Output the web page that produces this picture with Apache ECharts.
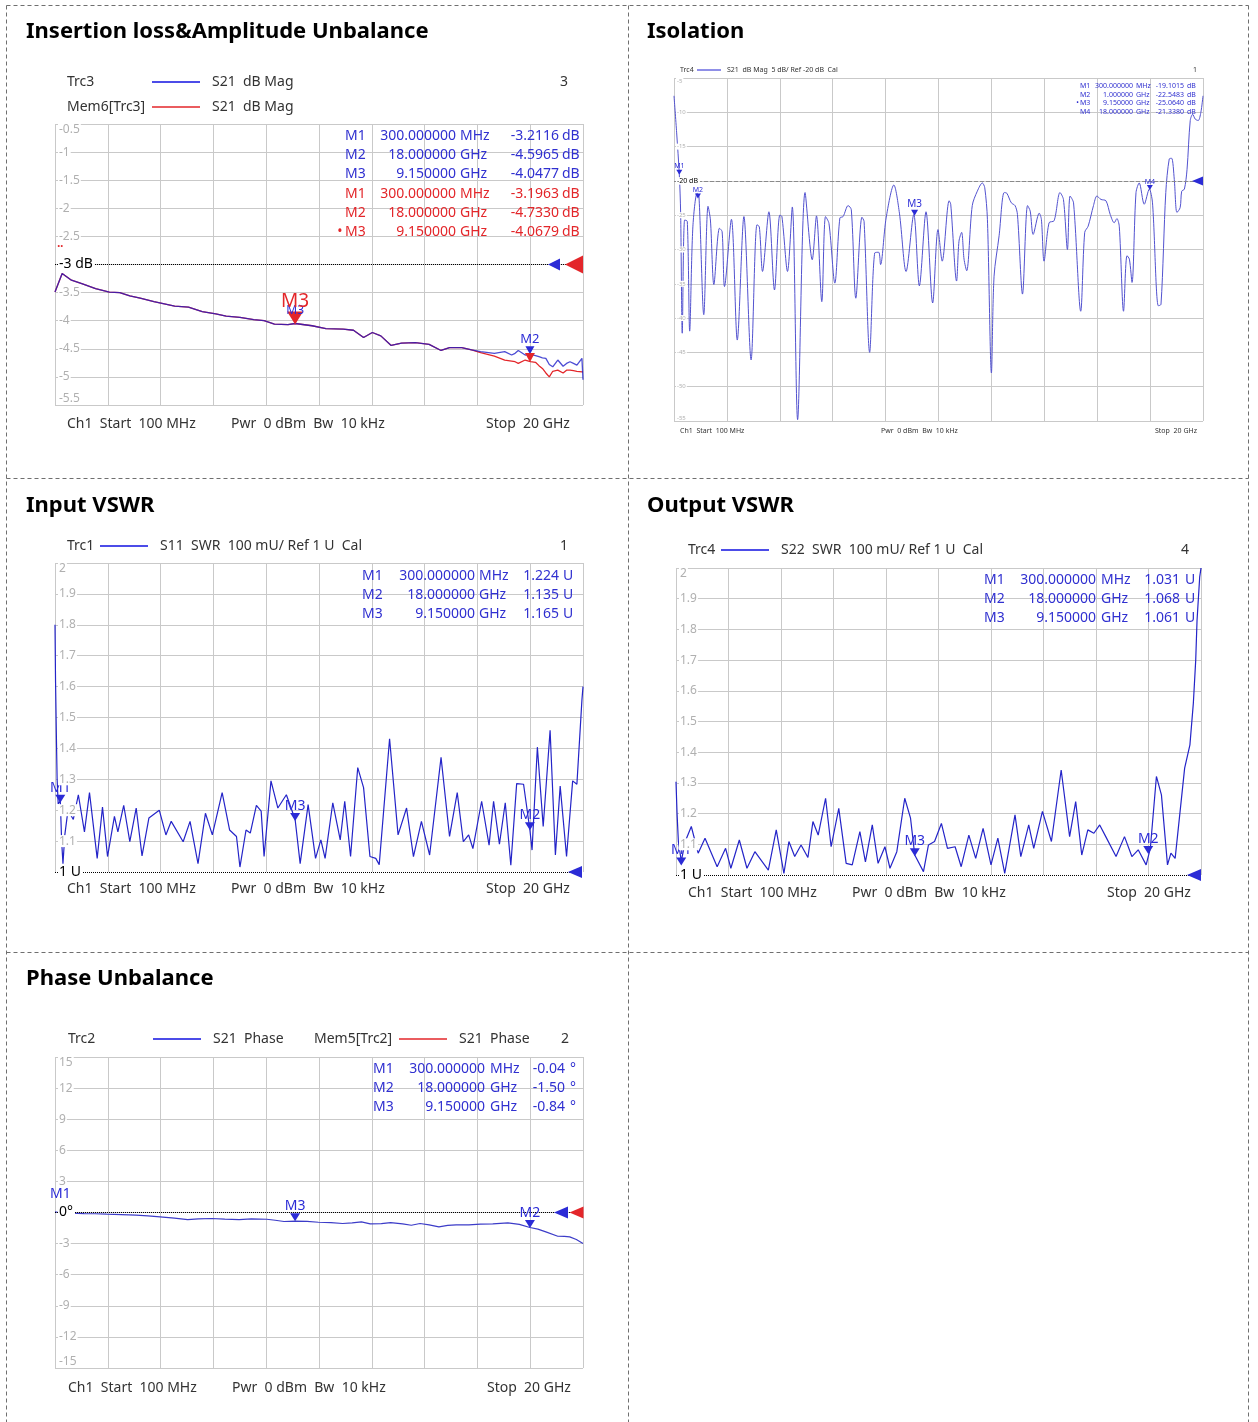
<!DOCTYPE html>
<html><head><meta charset="utf-8">
<script src="https://cdn.jsdelivr.net/npm/echarts@6/dist/echarts.min.js"></script>
<style>html,body{margin:0;padding:0;background:#fff}#c{width:1258px;height:1422px}</style>
</head><body><div id="c"></div>
<script>
// ---------------- DATA ----------------
// Insertion loss (S21 dB Mag), frequency in GHz
const ilFreq = [0.1,0.37,0.72,1.11,1.63,2.15,2.54,2.92,3.31,3.83,4.22,4.61,5.13,5.65,6.16,6.55,7.07,7.59,7.98,8.37,8.88,9.15,9.79,10.31,10.96,11.35,11.73,12.06,12.38,12.77,13.16,13.68,14.2,14.65,14.97,15.43,15.8];
const ilShared = [-3.49,-3.16,-3.28,-3.34,-3.43,-3.49,-3.50,-3.56,-3.60,-3.66,-3.70,-3.74,-3.76,-3.84,-3.88,-3.92,-3.94,-3.98,-4.00,-4.06,-4.07,-4.05,-4.09,-4.14,-4.15,-4.17,-4.30,-4.21,-4.27,-4.44,-4.40,-4.39,-4.42,-4.53,-4.48,-4.48,-4.52];
const ilTailFreq = [16.14,16.66,17.05,17.31,17.44,17.56,17.82,18.02,18.21,18.34,18.47,18.6,18.73,18.86,19.05,19.25,19.38,19.51,19.64,19.77,19.96,20.0];
const ilBlueTail = [-4.55,-4.58,-4.55,-4.61,-4.58,-4.53,-4.61,-4.60,-4.62,-4.64,-4.66,-4.67,-4.78,-4.82,-4.70,-4.81,-4.76,-4.73,-4.76,-4.79,-4.67,-5.05];
const ilRedTail  = [-4.57,-4.63,-4.70,-4.72,-4.73,-4.76,-4.70,-4.73,-4.74,-4.80,-4.85,-4.93,-5.00,-4.90,-4.88,-4.93,-4.88,-4.88,-4.89,-4.90,-4.91,-4.91];
const ilMarkBlue = [{n:'M1',f:0.3,v:-3.2116},{n:'M2',f:18,v:-4.5965},{n:'M3',f:9.15,v:-4.0477}];
const ilMarkRed  = [{n:'M1',f:0.3,v:-3.1963},{n:'M2',f:18,v:-4.7330},{n:'M3',f:9.15,v:-4.0679}];

// Isolation (S21 dB Mag)
const isoFreq = [0.1,0.2,0.3,0.35,0.41,0.5,0.6,0.69,0.81,0.97,1.04,1.22,1.38,1.47,1.6,1.81,1.91,2.0,2.26,2.48,2.73,3.0,3.22,3.31,3.43,3.67,3.88,4.08,4.16,4.37,4.55,4.75,5.03,5.3,5.46,5.66,5.8,5.93,6.15,6.34,6.46,6.65,6.77,6.94,7.17,7.25,7.46,7.65,7.8,7.87,8.08,8.37,8.58,8.83,9.12,9.33,9.58,9.83,10.03,10.19,10.45,10.51,10.73,10.82,10.92,11.01,11.11,11.32,11.51,11.7,11.79,11.89,12.04,12.14,12.33,12.52,12.62,12.79,12.93,13.02,13.21,13.4,13.5,13.61,13.84,13.92,14.02,14.21,14.4,14.62,14.75,14.9,15.0,15.13,15.4,15.55,15.68,15.88,16.01,16.16,16.35,16.51,16.66,16.76,16.85,17.01,17.14,17.23,17.33,17.48,17.6,17.79,17.98,18.1,18.32,18.42,18.6,18.73,18.82,18.92,19.02,19.14,19.2,19.3,19.4,19.52,19.61,19.71,19.82,19.92,20.0];
const isoVal = [-7.6,-13.0,-19.1,-24.7,-42.2,-25.7,-25.9,-41.9,-26.7,-21.8,-22.3,-39.5,-23.7,-25.7,-35.1,-26.9,-27.4,-35.4,-25.6,-43.2,-25.2,-46.1,-26.4,-26.7,-33.2,-24.5,-35.9,-25.0,-25.2,-33.2,-23.8,-54.8,-21.7,-31.5,-25.1,-37.6,-25.2,-26.2,-34.9,-25.4,-25.2,-23.6,-24.2,-37.1,-25.3,-25.9,-45.0,-30.5,-30.4,-32.2,-25.4,-20.6,-24.7,-33.2,-24.9,-35.3,-24.5,-37.8,-27.1,-31.7,-22.9,-23.4,-34.6,-28.8,-27.5,-31.4,-33.1,-23.6,-21.5,-20.3,-21.0,-25.6,-48.0,-33.9,-28.0,-21.7,-21.8,-23.2,-23.6,-24.9,-36.5,-23.6,-24.4,-27.8,-24.7,-25.6,-31.7,-26.1,-25.8,-21.7,-22.7,-30.0,-22.2,-23.2,-39.0,-27.5,-26.6,-23.6,-22.2,-22.7,-22.9,-24.9,-26.1,-25.5,-26.6,-39.0,-30.9,-31.4,-34.8,-21.7,-20.3,-23.4,-21.2,-23.2,-38.2,-38.0,-21.7,-16.8,-16.7,-19.8,-24.6,-23.9,-21.5,-21.2,-18.3,-11.2,-10.3,-11.0,-11.2,-10.0,-7.6];
const isoMark = [{n:'M1',f:0.3,v:-19.1015},{n:'M2',f:1.0,v:-22.5483},{n:'M3',f:9.15,v:-25.0640},{n:'M4',f:18,v:-21.3380}];

// Input VSWR (S11 SWR)
const inFreq = [0.10,0.12,0.15,0.18,0.22,0.30,0.35,0.40,0.47,0.59,0.79,0.98,1.21,1.40,1.69,1.89,2.08,2.34,2.47,2.69,2.92,3.16,3.38,3.64,4.03,4.28,4.48,4.93,5.19,5.49,5.77,6.03,6.40,6.68,6.94,7.07,7.30,7.46,7.69,7.87,7.98,8.24,8.50,8.82,9.15,9.34,9.64,9.92,10.12,10.28,10.57,10.85,11.02,11.24,11.51,11.73,11.97,12.19,12.32,12.71,13.03,13.35,13.61,13.91,14.22,14.65,14.97,15.26,15.49,15.69,15.85,16.18,16.46,16.63,16.85,17.07,17.28,17.50,17.76,18.00,18.08,18.28,18.50,18.76,18.96,19.14,19.38,19.61,19.77,19.96,20.0];
const inVal = [1.80,1.62,1.45,1.30,1.22,1.23,1.10,1.027,1.12,1.20,1.17,1.25,1.13,1.257,1.044,1.21,1.05,1.18,1.13,1.216,1.098,1.207,1.052,1.175,1.20,1.12,1.164,1.098,1.164,1.027,1.19,1.12,1.257,1.136,1.115,1.016,1.136,1.126,1.216,1.197,1.05,1.295,1.207,1.25,1.17,1.027,1.218,1.044,1.104,1.044,1.224,1.104,1.229,1.05,1.338,1.273,1.05,1.044,1.024,1.431,1.12,1.207,1.05,1.164,1.055,1.371,1.115,1.257,1.098,1.12,1.076,1.229,1.087,1.229,1.09,1.224,1.022,1.286,1.284,1.135,1.071,1.404,1.147,1.459,1.055,1.278,1.05,1.295,1.284,1.557,1.60];
const inMark = [{n:'M1',f:0.3,v:1.224},{n:'M2',f:18,v:1.135},{n:'M3',f:9.15,v:1.165}];

// Output VSWR (S22 SWR)
const outFreq = [0.10,0.14,0.19,0.30,0.45,0.68,0.94,1.20,1.66,1.98,2.18,2.50,2.79,3.09,3.60,3.90,4.19,4.38,4.60,4.84,5.10,5.29,5.49,5.77,5.98,6.27,6.55,6.78,7.07,7.28,7.54,7.76,8.02,8.21,8.47,8.77,8.99,9.15,9.48,9.67,9.90,10.16,10.39,10.68,10.91,11.20,11.46,11.74,12.04,12.30,12.56,12.95,13.17,13.47,13.66,13.99,14.33,14.70,15.02,15.25,15.48,15.71,15.94,16.16,16.39,16.78,17.10,17.38,17.62,17.92,18.08,18.31,18.50,18.73,18.86,19.02,19.38,19.58,19.71,19.80,19.85,19.95,20.0];
const outVal = [1.304,1.20,1.109,1.045,1.109,1.158,1.071,1.12,1.027,1.087,1.022,1.114,1.022,1.076,1.016,1.147,1.005,1.109,1.06,1.098,1.057,1.174,1.13,1.25,1.092,1.217,1.038,1.033,1.141,1.043,1.163,1.038,1.092,1.022,1.076,1.25,1.185,1.065,1.011,1.098,1.109,1.168,1.087,1.092,1.027,1.13,1.054,1.152,1.033,1.12,1.005,1.196,1.06,1.163,1.087,1.207,1.109,1.342,1.125,1.239,1.065,1.147,1.136,1.163,1.125,1.06,1.125,1.06,1.082,1.033,1.087,1.321,1.261,1.033,1.071,1.054,1.348,1.424,1.56,1.70,1.83,1.97,2.0];
const outMark = [{n:'M1',f:0.3,v:1.031},{n:'M2',f:18,v:1.068},{n:'M3',f:9.15,v:1.061}];

// Phase unbalance (S21 Phase, degrees)
const phFreq = [0.1,0.3,0.7,1.2,1.6,2.05,2.6,3.15,3.6,4.06,4.6,5.1,5.5,6.0,6.5,7.04,7.5,8.08,8.4,8.73,9.15,9.6,10.03,10.5,10.94,11.3,11.65,11.98,12.4,12.75,13.2,13.53,13.86,14.2,14.57,14.9,15.22,15.7,16.13,16.6,17.17,17.6,18.0,18.3,18.6,19.05,19.3,19.5,19.75,20.0];
const phVal = [0.06,-0.04,-0.06,-0.1,-0.12,-0.16,-0.2,-0.26,-0.32,-0.42,-0.55,-0.68,-0.62,-0.58,-0.64,-0.68,-0.62,-0.65,-0.75,-0.87,-0.84,-0.85,-0.94,-0.98,-1.06,-1.0,-0.9,-1.1,-1.08,-0.97,-1.1,-1.23,-1.06,-1.2,-1.39,-1.25,-1.19,-1.2,-1.13,-1.1,-1.0,-1.15,-1.45,-1.6,-1.87,-2.29,-2.3,-2.35,-2.6,-3.0];
const phMark = [{n:'M1',f:0.3,v:-0.04},{n:'M2',f:18,v:-1.50},{n:'M3',f:9.15,v:-0.84}];

// ---------------- BUILD ----------------
const FONT = '"Noto Sans", "DejaVu Sans", sans-serif';
const GRID_C = '#c9c9c9', LABEL_C = '#b0b0b0';
const BLUE = '#2b2bd6', RED = '#e3262a', TXT = '#333';
const FMIN = 0.1, FMAX = 20;
const grids = [], xAxes = [], yAxes = [], series = [], graphics = [];
const zip = (a, b) => a.map((x, i) => [x, b[i]]);

function addPanel(p) {
  const gi = grids.length;
  grids.push({left: p.rect[0], top: p.rect[1], width: p.rect[2], height: p.rect[3], show: false});
  xAxes.push({type:'value', gridIndex:gi, min:FMIN, max:FMAX, show:false});
  xAxes.push({type:'value', gridIndex:gi, min:0, max:10, interval:1, axisLine:{show:false}, axisTick:{show:false}, axisLabel:{show:false},
    splitLine:{show:true, lineStyle:{color:GRID_C, width:1}}});
  yAxes.push({type:'value', gridIndex:gi, position:'left', min:p.ymin, max:p.ymax, interval:p.yint, axisLine:{show:false}, axisTick:{show:false}, axisLabel:{show:false},
    splitLine:{show:true, showMinLine: p.showMinLine !== false, lineStyle:{color:GRID_C, width:1}}});
  yAxes.push({type:'value', gridIndex:gi, position:'left', offset:0, z:10, min:p.ymin, max:p.ymax, interval:p.yint,
    axisLine:{show:false}, axisTick:{show:false}, splitLine:{show:false},
    axisLabel:{show:true, inside:true, margin:p.labelMargin, color:LABEL_C, fontSize:p.labelSize, fontFamily:FONT,
      backgroundColor:'#fff', padding:[0,1,0,1],
      verticalAlignMinLabel: p.minVA || 'bottom', verticalAlignMaxLabel:'top',
      formatter: v => Math.abs(v - p.ref) < 1e-9 ? '{r|' + p.refLabel + '}' : String(+(+v).toFixed(2)),
      rich:{r:{color:'#000', fontSize:p.refSize, fontFamily:FONT, backgroundColor:'#fff', padding:[0,1,0,0]}}}});
  return gi;
}

function markTri(m, color, size, fontSize, showLabel, showSym) {
  return {name:m.n, coord:[m.f, m.v], symbol:'triangle', symbolRotate:180,
    symbolSize: showSym === false ? 0 : size, symbolOffset:[0, -size[1]/2],
    itemStyle:{color:color},
    label:{show: showLabel !== false, position:'top', distance: showSym === false ? size[1] : 0, formatter:m.n, color:color, fontSize:fontSize, fontFamily:FONT}};
}
function arrow(f, v, color, w, h, off) {
  return {coord:[f, v], symbol:'triangle', symbolRotate:90, symbolSize:[w, h], symbolOffset:[off, 0],
    itemStyle:{color:color}, label:{show:false}};
}
function refLine(v, color, type) {
  return {silent:true, symbol:'none', label:{show:false}, lineStyle:{color:color, width:1, type:type},
    data:[{yAxis:v}], animation:false};
}

function txt(x, y, s, o) {
  o = o || {};
  graphics.push({type:'text', x:x, y:y, z:100, silent:true,
    style:{text:s, font: o.font || ('14px ' + FONT), fill: o.color || TXT, textAlign: o.align || 'left', textVerticalAlign:'middle'}});
}
function ln(x1, y1, x2, y2, color, w, dash) {
  graphics.push({type:'line', z:100, silent:true, shape:{x1:x1, y1:y1, x2:x2, y2:y2},
    style:{stroke:color, lineWidth:w, lineDash: dash || null}});
}
const fText = f => f < 1 ? (f * 1000).toFixed(6) : f.toFixed(6);
const fUnit = f => f < 1 ? 'MHz' : 'GHz';
function mtable(rows, c) {
  rows.forEach((r, k) => {
    const y = c.y0 + (c.start + k) * c.dy;
    const font = c.size + 'px ' + FONT;
    if (c.dotRow === k) txt(c.nameX - c.size * 0.55, y, '•', {font:font, color:c.color});
    txt(c.nameX, y, r.n, {font:font, color:c.color});
    txt(c.fR, y, fText(r.f), {font:font, color:c.color, align:'right'});
    txt(c.uX, y, fUnit(r.f), {font:font, color:c.color});
    txt(c.vR, y, r.v.toFixed(c.dec), {font:font, color:c.color, align:'right'});
    txt(c.u2X, y, c.unit, {font:font, color:c.color});
  });
}
function status(x1, x2, x3, y, size) {
  const font = size + 'px ' + FONT;
  txt(x1, y, 'Ch1  Start  100 MHz', {font:font});
  txt(x2, y, 'Pwr  0 dBm  Bw  10 kHz', {font:font});
  txt(x3, y, 'Stop  20 GHz', {font:font});
}

// ---- Panel 0: Insertion loss
const g0 = addPanel({rect:[55,124,528,281], ymin:-5.5, ymax:-0.5, yint:0.5, ref:-3, refLabel:'-3 dB', refSize:14, labelSize:12, labelMargin:3});
series.push({type:'line', xAxisIndex:2*g0, yAxisIndex:2*g0, z:2, symbol:'none', data: zip(ilFreq.concat(ilTailFreq), ilShared.concat(ilBlueTail)),
  lineStyle:{color:'rgba(25,25,200,0.78)', width:1.3},
  markPoint:{animation:false, data:[markTri(ilMarkBlue[1], BLUE, [9,8], 13), markTri(ilMarkBlue[2], BLUE, [8,7], 12), arrow(FMAX, -3, BLUE, 12, 12, -29)]}});
series.push({type:'line', xAxisIndex:2*g0, yAxisIndex:2*g0, z:1, symbol:'none', data: zip(ilFreq.concat(ilTailFreq), ilShared.concat(ilRedTail)),
  lineStyle:{color:RED, width:1.3},
  markLine: refLine(-3, '#000', 'dotted'),
  markPoint:{animation:false, data:[markTri(ilMarkRed[1], RED, [10,9], 13, false), markTri(ilMarkRed[2], RED, [16,13], 19), arrow(FMAX, -3, RED, 18, 18, -9)]}});

// ---- Panel 1: Isolation
const g1 = addPanel({rect:[674,78,529,343], ymin:-55, ymax:-5, yint:5, ref:-20, refLabel:'-20 dB', refSize:7, labelSize:6, labelMargin:2});
series.push({type:'line', xAxisIndex:2*g1, yAxisIndex:2*g1, symbol:'none', smooth:0.3, data: zip(isoFreq, isoVal),
  lineStyle:{color:'#5252cf', width:1},
  markLine: refLine(-20, '#8a8a8a', 'dashed'),
  markPoint:{animation:false, data:[markTri(isoMark[0], BLUE, [6,5], 7), markTri(isoMark[1], BLUE, [6,5], 7), markTri(isoMark[2], BLUE, [7,6], 10), markTri(isoMark[3], BLUE, [6,5], 7), arrow(FMAX, -20, BLUE, 9, 11, -5.5)]}});

// ---- Panel 2: Input VSWR
const g2 = addPanel({rect:[55,563,528,309], ymin:1, ymax:2, yint:0.1, ref:1, refLabel:'1 U', refSize:14, labelSize:12, labelMargin:3, minVA:'middle', showMinLine:false});
series.push({type:'line', xAxisIndex:2*g2, yAxisIndex:2*g2, symbol:'none', data: zip(inFreq, inVal),
  lineStyle:{color:'#2424c8', width:1.2},
  markLine: refLine(1, '#000', 'dotted'),
  markPoint:{animation:false, data:[markTri(inMark[0], BLUE, [10,8], 14), markTri(inMark[1], BLUE, [10,8], 14), markTri(inMark[2], BLUE, [10,8], 14), arrow(FMAX, 1, BLUE, 12, 14, -8)]}});

// ---- Panel 3: Output VSWR
const g3 = addPanel({rect:[676,568,525,307], ymin:1, ymax:2, yint:0.1, ref:1, refLabel:'1 U', refSize:14, labelSize:12, labelMargin:3, minVA:'middle', showMinLine:false});
series.push({type:'line', xAxisIndex:2*g3, yAxisIndex:2*g3, symbol:'none', data: zip(outFreq, outVal),
  lineStyle:{color:'#2424c8', width:1.2},
  markLine: refLine(1, '#000', 'dotted'),
  markPoint:{animation:false, data:[markTri(outMark[0], BLUE, [10,8], 14), markTri(outMark[1], BLUE, [10,8], 14), markTri(outMark[2], BLUE, [10,8], 14), arrow(FMAX, 1, BLUE, 12, 14, -7)]}});

// ---- Panel 4: Phase
const g4 = addPanel({rect:[55,1057,528,311], ymin:-15, ymax:15, yint:3, ref:0, refLabel:'0°', refSize:14, labelSize:12, labelMargin:3});
series.push({type:'line', xAxisIndex:2*g4, yAxisIndex:2*g4, symbol:'none', data: zip(phFreq, phVal),
  lineStyle:{color:'#3c3cc8', width:1.2},
  markLine: refLine(0, '#000', 'dotted'),
  markPoint:{animation:false, data:[markTri(phMark[0], BLUE, [10,8], 14, true, false), markTri(phMark[1], BLUE, [10,8], 14), markTri(phMark[2], BLUE, [10,8], 14), arrow(FMAX, 0, BLUE, 12, 14, -22), arrow(FMAX, 0, RED, 12, 14, -6.5)]}});

// ---------------- TEXT / FRAME ----------------
const DASH = [4, 3], FR = '#6f6f6f';
ln(6.5, 5.5, 1248.5, 5.5, FR, 1, DASH);
ln(6.5, 5.5, 6.5, 1422, FR, 1, DASH);
ln(1248.5, 5.5, 1248.5, 1422, FR, 1, DASH);
ln(628.5, 5.5, 628.5, 1422, FR, 1, DASH);
ln(6.5, 478.5, 1248.5, 478.5, FR, 1, DASH);
ln(6.5, 952.5, 1248.5, 952.5, FR, 1, DASH);

const TFONT = 'bold 22px ' + FONT;
txt(26, 32, 'Insertion loss&Amplitude Unbalance', {font:TFONT, color:'#000'});
txt(647, 32, 'Isolation', {font:TFONT, color:'#000'});
txt(26, 506, 'Input VSWR', {font:TFONT, color:'#000'});
txt(647, 506, 'Output VSWR', {font:TFONT, color:'#000'});
txt(26, 979, 'Phase Unbalance', {font:TFONT, color:'#000'});

// Panel 0 legend
txt(67, 82, 'Trc3'); ln(152, 82, 200, 82, '#1010e0', 1.5); txt(212, 82, 'S21  dB Mag'); txt(560, 82, '3');
txt(67, 107, 'Mem6[Trc3]'); ln(152, 107, 200, 107, RED, 1.5); txt(212, 107, 'S21  dB Mag');
mtable(ilMarkBlue, {y0:136, dy:19.2, start:0, size:14, color:'#3030d0', nameX:345, fR:456, uX:460, vR:559, u2X:562, dec:4, unit:'dB'});
mtable(ilMarkRed, {y0:136, dy:19.2, start:3, size:14, color:RED, nameX:345, fR:456, uX:460, vR:559, u2X:562, dec:4, unit:'dB', dotRow:2});
txt(56, 252, '¨', {font:'bold 14px ' + FONT, color:RED});
status(67, 231, 486, 424, 14);

// Panel 1 legend (small)
txt(680, 70, 'Trc4', {font:'7px ' + FONT}); ln(697, 70, 721, 70, '#2020d0', 1); txt(727, 70, 'S21  dB Mag  5 dB/ Ref -20 dB  Cal', {font:'7px ' + FONT}); txt(1193, 70, '1', {font:'7px ' + FONT});
mtable(isoMark, {y0:86, dy:8.6, start:0, size:7, color:'#3030d0', nameX:1080, fR:1133, uX:1136, vR:1184, u2X:1187, dec:4, unit:'dB', dotRow:2});
status(680, 881, 1155, 431, 7);

// Panel 2 legend
txt(67, 546, 'Trc1'); ln(100, 546, 148, 546, '#1010e0', 1.5); txt(160, 546, 'S11  SWR  100 mU/ Ref 1 U  Cal'); txt(560, 546, '1');
mtable(inMark, {y0:576, dy:19.2, start:0, size:14, color:'#3030d0', nameX:362, fR:475, uX:479, vR:559, u2X:563, dec:3, unit:'U'});
status(67, 231, 486, 889, 14);

// Panel 3 legend
txt(688, 550, 'Trc4'); ln(721, 550, 769, 550, '#1010e0', 1.5); txt(781, 550, 'S22  SWR  100 mU/ Ref 1 U  Cal'); txt(1181, 550, '4');
mtable(outMark, {y0:580, dy:19.2, start:0, size:14, color:'#3030d0', nameX:984, fR:1096, uX:1101, vR:1180, u2X:1185, dec:3, unit:'U'});
status(688, 852, 1107, 893, 14);

// Panel 4 legend
txt(68, 1039, 'Trc2'); ln(153, 1039, 201, 1039, '#1010e0', 1.5); txt(213, 1039, 'S21  Phase');
txt(314, 1039, 'Mem5[Trc2]'); ln(399, 1039, 447, 1039, RED, 1.5); txt(459, 1039, 'S21  Phase'); txt(561, 1039, '2');
mtable(phMark, {y0:1069, dy:19.2, start:0, size:14, color:'#3030d0', nameX:373, fR:485, uX:490, vR:565, u2X:570, dec:2, unit:'°'});
status(68, 232, 487, 1388, 14);

const chart = echarts.init(document.getElementById('c'), null, {renderer:'canvas'});
chart.setOption({animation:false, backgroundColor:'#fff', grid:grids, xAxis:xAxes, yAxis:yAxes, series:series, graphic:graphics});
</script></body></html>
